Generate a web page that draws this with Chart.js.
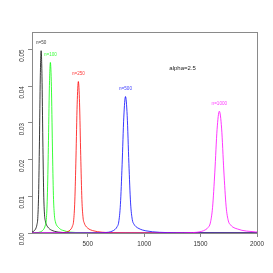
<!DOCTYPE html>
<html>
<head>
<meta charset="utf-8">
<script src="https://cdn.jsdelivr.net/npm/chart.js@4/dist/chart.umd.min.js"></script>
<style>
html,body{margin:0;padding:0;background:#fff;}
#wrap{width:273px;height:273px;position:relative;}
</style>
</head>
<body>
<div id="wrap"><canvas id="c" width="273" height="273"></canvas></div>
<script>
// ---- data ----
const seriesNames = ['n=50', 'n=100', 'n=250', 'n=500', 'n=1000'];
const seriesColors = ['#000000', '#00ff00', '#ff0000', '#0000ff', '#ff00ff'];

const x50 = [1, 11, 26, 41, 48.5, 56, 63.5, 71, 78.5, 86, 93.5, 101, 108.5, 116, 123.5, 131, 146, 161, 176, 206, 236, 311, 386, 686, 2000];
const y50 = [0.00015, 0.0003, 0.00065, 0.00139, 0.00224, 0.00398, 0.01044, 0.02485, 0.04225, 0.0497, 0.04274, 0.02535, 0.01093, 0.00497, 0.00323, 0.00239, 0.00159, 0.00109, 0.0008, 0.00045, 0.00025, 0.0001, 0.00005, 0.00001, 0];

const x100 = [1, 24, 60, 78, 96, 114, 123, 132, 141, 150, 159, 168, 177, 186, 195, 204, 213, 222, 240, 258, 276, 312, 348, 438, 528, 888, 2000];
const y100 = [0.00002, 0.00005, 0.00014, 0.00028, 0.0006, 0.0013, 0.0021, 0.0037, 0.0098, 0.0233, 0.0395, 0.0465, 0.04, 0.0237, 0.0102, 0.0047, 0.003, 0.0022, 0.0015, 0.001, 0.00074, 0.00042, 0.00023, 0.00009, 0.00005, 0.00001, 0];

const x250 = [1, 206, 248, 290, 311, 332, 353, 363.5, 374, 384.5, 395, 405.5, 416, 426.5, 437, 447.5, 458, 468.5, 479, 500, 521, 542, 584, 626, 731, 836, 1256, 2000];
const y250 = [0, 0.00002, 0.00004, 0.00012, 0.00025, 0.00054, 0.00116, 0.00186, 0.0033, 0.0087, 0.0207, 0.0351, 0.0413, 0.0355, 0.0211, 0.0091, 0.0041, 0.0027, 0.002, 0.0013, 0.0009, 0.00066, 0.00037, 0.00021, 0.00008, 0.00004, 0.00001, 0];

const x500 = [1, 534, 594, 654, 684, 714, 744, 759, 774, 789, 804, 819, 834, 849, 864, 879, 894, 909, 924, 954, 984, 1014, 1074, 1134, 1284, 1434, 2000];
const y500 = [0, 0.00002, 0.00004, 0.00011, 0.00022, 0.00048, 0.00104, 0.00167, 0.003, 0.0078, 0.0186, 0.0316, 0.0372, 0.032, 0.019, 0.0082, 0.0037, 0.0024, 0.0018, 0.0012, 0.00082, 0.0006, 0.00033, 0.00019, 0.00007, 0.00004, 0.00001];

const x1000 = [1, 1266, 1346, 1426, 1466, 1506, 1546, 1566, 1586, 1606, 1626, 1646, 1666, 1686, 1706, 1726, 1746, 1766, 1786, 1826, 1866, 1906, 1986, 2000];
const y1000 = [0, 0.00001, 0.00003, 0.0001, 0.0002, 0.00043, 0.00093, 0.0015, 0.0027, 0.007, 0.0166, 0.0282, 0.0332, 0.0286, 0.0169, 0.0073, 0.0033, 0.0022, 0.0016, 0.0011, 0.00073, 0.00053, 0.0003, 0.00028];

const xTicks = [500, 1000, 1500, 2000];
const yTicks = [0, 0.01, 0.02, 0.03, 0.04, 0.05];
const annotationText = 'alpha=2.5';

// ---- chart ----
const xs = [x50, x100, x250, x500, x1000];
const ys = [y50, y100, y250, y500, y1000];

function soften(hex) {
  const r = parseInt(hex.slice(1, 3), 16), g = parseInt(hex.slice(3, 5), 16), b = parseInt(hex.slice(5, 7), 16);
  return 'rgba(' + r + ',' + g + ',' + b + ',0.78)';
}

const datasets = seriesNames.map((name, i) => ({
  label: name,
  data: xs[i].map((x, j) => ({x: x, y: ys[i][j]})),
  borderColor: soften(seriesColors[i]),
  borderWidth: 1,
  pointRadius: 0,
  fill: false,
  cubicInterpolationMode: 'monotone',
  order: seriesNames.length - i
}));

const FONT = '"Liberation Sans", Arial, sans-serif';

const boxPlugin = {
  id: 'box',
  beforeDatasetsDraw(chart) {
    const ctx = chart.ctx;
    const a = chart.chartArea;
    ctx.save();
    ctx.strokeStyle = '#8a8a8a';
    ctx.lineWidth = 1;
    ctx.strokeRect(Math.round(a.left) + 0.5, Math.round(a.top) + 0.5, Math.round(a.right - a.left), Math.round(a.bottom - a.top));
    ctx.restore();
  },
  afterDatasetsDraw(chart) {
    const ctx = chart.ctx;
    const sx = chart.scales.x, sy = chart.scales.y;
    ctx.save();
    ctx.textAlign = 'center';
    ctx.textBaseline = 'middle';
    ctx.font = '4.6px ' + FONT;
    seriesNames.forEach((name, i) => {
      let k = 0;
      ys[i].forEach((v, j) => { if (v > ys[i][k]) k = j; });
      ctx.fillStyle = soften(seriesColors[i]);
      ctx.fillText(name, sx.getPixelForValue(xs[i][k]), sy.getPixelForValue(ys[i][k] + 0.0021));
    });
    ctx.font = '6px ' + FONT;
    ctx.fillStyle = '#222';
    ctx.fillText(annotationText, sx.getPixelForValue(1340), sy.getPixelForValue(0.045));
    ctx.restore();
  }
};

new Chart(document.getElementById('c'), {
  type: 'line',
  data: {datasets: datasets},
  options: {
    responsive: false,
    animation: false,
    devicePixelRatio: 1,
    layout: {padding: {top: 32, right: 16, left: 0, bottom: 0}},
    plugins: {legend: {display: false}, tooltip: {enabled: false}},
    scales: {
      x: {
        type: 'linear',
        min: 5,
        max: 2000,
        afterBuildTicks: (s) => { s.ticks = xTicks.map(v => ({value: v})); },
        afterFit: (s) => { s.height = 40; },
        grid: {drawOnChartArea: false, tickLength: 4, tickColor: '#8a8a8a', lineWidth: 1},
        border: {display: false},
        ticks: {color: '#333', font: {family: FONT, size: 6.3}, padding: 3, maxRotation: 0, minRotation: 0,
          callback: (v) => String(v)}
      },
      y: {
        type: 'linear',
        min: 0,
        max: 0.0548,
        afterBuildTicks: (s) => { s.ticks = yTicks.map(v => ({value: v})); },
        afterFit: (s) => { s.width = 32; },
        grid: {drawOnChartArea: false, tickLength: 4, tickColor: '#8a8a8a', lineWidth: 1},
        border: {display: false},
        ticks: {color: '#333', font: {family: FONT, size: 6.3}, padding: 6, minRotation: 90, maxRotation: 90,
          callback: (v) => Number(v).toFixed(2)}
      }
    }
  },
  plugins: [boxPlugin]
});
</script>
</body>
</html>
